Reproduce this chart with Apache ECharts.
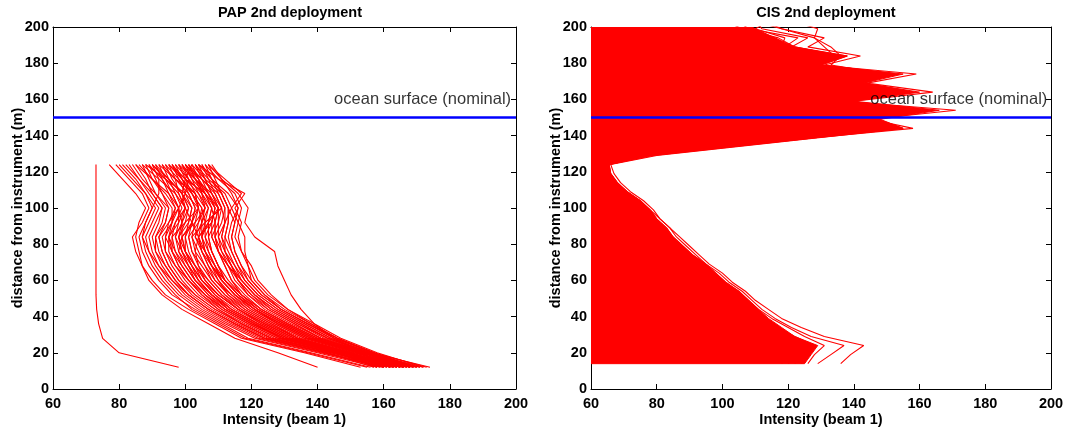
<!DOCTYPE html>
<html lang="en">
<head>
  <meta charset="UTF-8">
  <title>PAP / CIS 2nd deployment</title>
  <script type="text/javascript" src="https://cdn.jsdelivr.net/npm/echarts@6/dist/echarts.min.js"></script>
  <style>
    html, body { margin: 0; padding: 0; background: #fff; }
    #target { width: 1067px; height: 432px; }
  </style>
</head>
<body>
  <div id="target"></div>
  <script type="text/javascript">
    // PAP: depth bins (m above instrument) and intensity profiles
    const papDepth = [124, 116, 108, 100, 92, 84, 76, 68, 60, 52, 44, 36, 28, 20, 12];
    const papProfiles = [
      [73, 73, 73, 73, 73, 73, 73, 73, 73, 73, 73.2, 73.8, 75, 80, 98],
      [77, 81, 85, 88, 86, 85, 86, 87, 89, 93, 99, 107, 115, 128, 140],
      [79, 83, 87, 89, 87, 84, 85, 87, 90, 94, 101, 109, 117, 136, 153],
      [80, 84, 88, 91, 89, 87, 88, 90, 93, 97, 102, 110, 118, 137, 155],
      [81, 85, 88, 90, 88, 86, 87, 89, 92, 96, 103, 111, 119, 138, 156],
      [82, 86, 90, 93, 92, 90, 91, 94, 97, 101, 107, 115, 124, 143, 160],
      [83, 86, 89, 92, 90, 88, 89, 91, 94, 98, 104, 112, 121, 140, 158],
      [84, 87, 91, 95, 94, 91, 91, 93, 96, 100, 106, 114, 123, 142, 159],
      [85, 88, 90, 93, 91, 89, 90, 92, 95, 99, 105, 113, 122, 141, 160],
      [85, 90, 95, 98, 96, 93, 94, 97, 101, 106, 112, 120, 129, 146, 162],
      [86, 90, 94, 97, 95, 92, 93, 95, 98, 103, 109, 117, 126, 144, 161],
      [87, 89, 91, 94, 93, 91, 92, 94, 97, 101, 107, 115, 124, 143, 157],
      [87, 92, 97, 100, 98, 95, 96, 98, 101, 105, 111, 119, 128, 146, 158],
      [88, 90, 93, 96, 96, 94, 94, 96, 99, 103, 109, 117, 126, 145, 163],
      [88, 94, 100, 104, 100, 96, 96, 98, 101, 105, 110, 117, 126, 145, 159],
      [89, 91, 93, 95, 94, 92, 93, 95, 98, 102, 108, 116, 125, 144, 162],
      [89, 93, 96, 98, 98, 97, 99, 101, 104, 108, 113, 121, 130, 147, 166],
      [90, 92, 92, 90, 88, 87, 89, 92, 96, 101, 107, 115, 124, 142, 160],
      [90, 94, 98, 100, 97, 95, 97, 100, 103, 108, 114, 122, 131, 148, 163],
      [90, 95, 99, 101, 100, 98, 100, 103, 107, 111, 117, 125, 134, 150, 165],
      [91, 93, 95, 97, 96, 95, 95, 97, 100, 104, 110, 118, 127, 145, 164],
      [91, 95, 99, 102, 101, 98, 99, 102, 105, 109, 115, 123, 132, 149, 162],
      [92, 94, 96, 98, 99, 99, 100, 102, 104, 108, 114, 122, 131, 148, 168],
      [92, 97, 103, 106, 103, 99, 98, 100, 103, 107, 112, 120, 129, 146, 160],
      [93, 95, 97, 99, 97, 96, 97, 99, 102, 106, 111, 119, 128, 146, 158],
      [93, 97, 101, 103, 102, 100, 100, 102, 105, 110, 116, 124, 133, 150, 164],
      [94, 96, 99, 101, 99, 98, 99, 101, 103, 107, 113, 121, 130, 147, 165],
      [94, 98, 102, 105, 104, 101, 102, 105, 108, 112, 118, 126, 135, 150, 160],
      [95, 97, 98, 100, 99, 97, 98, 101, 104, 108, 113, 121, 129, 147, 163],
      [95, 99, 103, 104, 102, 99, 100, 103, 106, 110, 116, 124, 133, 149, 157],
      [95, 100, 106, 109, 108, 104, 103, 104, 107, 111, 116, 123, 132, 149, 164],
      [96, 98, 100, 102, 101, 100, 101, 103, 105, 109, 114, 122, 131, 148, 161],
      [96, 99, 102, 104, 105, 105, 106, 108, 110, 113, 118, 126, 134, 150, 166],
      [96, 100, 104, 107, 105, 103, 105, 107, 110, 114, 119, 127, 136, 151, 166],
      [97, 99, 101, 103, 102, 101, 102, 104, 106, 110, 116, 124, 133, 149, 167],
      [97, 101, 105, 108, 107, 105, 106, 108, 111, 115, 121, 129, 138, 153, 168],
      [98, 100, 102, 105, 106, 106, 108, 110, 112, 116, 121, 128, 137, 152, 164],
      [98, 101, 100, 98, 95, 94, 96, 99, 102, 106, 112, 120, 130, 147, 162],
      [98, 103, 108, 110, 107, 104, 105, 108, 112, 117, 123, 131, 140, 154, 169],
      [99, 101, 103, 104, 103, 102, 104, 106, 108, 112, 117, 125, 134, 150, 163],
      [99, 102, 106, 110, 109, 107, 108, 110, 113, 117, 123, 131, 140, 154, 170],
      [99, 103, 107, 109, 108, 106, 107, 109, 111, 115, 121, 129, 138, 152, 165],
      [100, 102, 104, 106, 105, 104, 105, 107, 109, 113, 119, 127, 136, 151, 168],
      [100, 103, 106, 108, 109, 109, 110, 112, 114, 117, 122, 130, 139, 153, 162],
      [100, 104, 107, 110, 110, 108, 110, 113, 117, 121, 127, 135, 143, 156, 168],
      [100, 105, 109, 111, 106, 102, 103, 106, 109, 114, 120, 128, 137, 152, 167],
      [101, 103, 105, 107, 106, 105, 107, 109, 111, 115, 120, 128, 137, 152, 166],
      [101, 104, 105, 106, 104, 103, 106, 109, 112, 116, 122, 130, 139, 153, 171],
      [101, 105, 110, 112, 111, 109, 110, 113, 116, 120, 125, 133, 141, 154, 166],
      [102, 100, 99, 100, 102, 104, 106, 108, 111, 115, 121, 129, 138, 153, 169],
      [102, 104, 106, 108, 107, 107, 108, 110, 112, 116, 122, 130, 139, 153, 170],
      [102, 106, 111, 113, 113, 112, 112, 114, 116, 119, 124, 132, 141, 155, 171],
      [103, 105, 107, 109, 108, 108, 110, 112, 114, 118, 123, 131, 140, 154, 165],
      [103, 106, 108, 111, 112, 111, 112, 115, 118, 122, 128, 136, 144, 156, 167],
      [103, 107, 112, 114, 112, 110, 111, 114, 117, 121, 126, 134, 143, 155, 169],
      [104, 106, 108, 110, 109, 109, 111, 113, 115, 119, 125, 133, 141, 155, 172],
      [104, 108, 113, 116, 114, 113, 114, 116, 119, 123, 129, 137, 145, 157, 173],
      [104, 110, 118, 115, 117, 116, 117, 119, 121, 125, 131, 139, 147, 158, 172],
      [105, 107, 109, 111, 110, 110, 112, 114, 116, 120, 126, 134, 142, 155, 168],
      [105, 108, 111, 113, 115, 114, 115, 117, 120, 124, 129, 137, 146, 157, 165],
      [106, 108, 110, 112, 112, 111, 113, 115, 117, 121, 127, 135, 143, 156, 174],
      [106, 110, 115, 117, 116, 115, 117, 120, 122, 126, 131, 138, 146, 157, 169],
      [107, 109, 111, 113, 113, 112, 114, 116, 118, 122, 128, 136, 144, 156, 166],
      [107, 112, 117, 114, 116, 118, 118, 119, 120, 124, 130, 138, 146, 157, 168],
      [107, 111, 116, 119, 118, 121, 127, 128, 130, 132, 135, 139, 145, 154, 165],
      [108, 111, 114, 116, 115, 114, 115, 117, 119, 123, 129, 137, 145, 157, 170]
    ];

    // CIS: depth bins, upper bound of the dense block of profiles, and outlying profiles
    const cisDepth = [14, 19, 24, 29, 34, 39, 44, 49, 54, 59, 64, 69, 74, 79, 84, 89, 94, 99, 104,
      109, 114, 119, 124, 129, 134, 139, 144, 149, 154, 159, 164, 169, 174, 179, 184, 189, 194, 199, 204];
    const cisEnvelope = [125, 127, 129, 122, 118, 114, 111, 108, 105, 101, 98, 95, 91, 88, 85, 83, 80, 78, 75,
      71, 68, 66, 65.5, 78, 103, 128, 155, 148, 166, 140, 160, 143, 155, 130, 138, 122, 116, 110, 105];
    const cisProfiles = [
      [136, 139, 143, 131, 124, 118, 114, 110, 107, 103, 100, 96, 93, 90, 87, 84, 81, 79, 76,
        72, 69, 67, 66, 80, 105, 130, 155, 147, 160, 139, 158, 143, 152, 130, 138, 121, 126, 112, 110],
      [129, 133, 137, 127, 121, 116, 112, 109, 106, 102, 99, 95, 92, 89, 86, 84, 81, 78, 75,
        71, 68, 66, 65.5, 79, 104, 129, 154, 146, 163, 138, 155, 142, 150, 128, 135, 119, 123, 108, 104],
      [126, 128, 131, 125, 120, 115, 111, 108, 105, 101, 98, 95, 91, 88, 85, 83, 80, 78, 75,
        71, 68, 66, 65.5, 78, 103, 129, 158, 145, 171, 137, 150, 141, 148, 127, 133, 118, 119, 110, 115],
      [124, 126, 128, 122, 117, 113, 110, 107, 104, 100, 97, 94, 90, 87, 84, 82, 79, 77, 74,
        70, 67, 65, 64, 76, 100, 125, 150, 142, 155, 140, 164, 144, 159, 129, 136, 122, 117, 106, 100],
      [122, 124, 126, 120, 115, 112, 108, 105, 102, 99, 96, 93, 89, 86, 83, 81, 78, 76, 73,
        70, 66, 64, 63, 74, 97, 122, 148, 140, 152, 136, 149, 140, 152, 131, 142, 126, 131, 118, 112],
      [120, 123, 124, 118, 114, 110, 107, 104, 101, 98, 95, 92, 88, 85, 82, 80, 77, 75, 72,
        69, 66, 64, 63, 73, 96, 120, 146, 138, 150, 135, 146, 137, 150, 133, 136, 133, 128, 129, 120],
      [118, 121, 122, 116, 112, 108, 105, 102, 99, 96, 93, 90, 87, 84, 81, 79, 76, 74, 71,
        68, 65, 63, 62, 72, 95, 118, 144, 136, 148, 132, 145, 135, 147, 128, 134, 131, 128, 118, 108]
    ];

    const surfaceDepth = 150;
    const surfaceX = [60, 200];
    const surfaceLabel = 'ocean surface (nominal)';
    const surfaceLabelAt = [145, 160];

    const FONT = 'Liberation Sans, Arial, Helvetica, sans-serif';
    const tickLabel = { color: '#000', fontWeight: 'bold', fontSize: 14.5, fontFamily: FONT };

    function xAxis(grid, pos) {
      const main = pos === 'bottom';
      return {
        type: 'value', gridIndex: grid, position: pos, min: 60, max: 200, interval: 20,
        axisLine: { onZero: false, lineStyle: { color: '#000', width: 1 } },
        axisTick: { inside: true, length: 5, lineStyle: { color: '#000' } },
        axisLabel: Object.assign({ show: main, margin: 7, showMinLabel: true, showMaxLabel: true }, tickLabel),
        splitLine: { show: false },
        name: main ? 'Intensity (beam 1)' : '', nameLocation: 'middle', nameGap: 23,
        nameMoveOverlap: false,
        nameTextStyle: tickLabel
      };
    }
    function yAxis(grid, pos) {
      const main = pos === 'left';
      return {
        type: 'value', gridIndex: grid, position: pos, min: 0, max: 200, interval: 20,
        axisLine: { onZero: false, lineStyle: { color: '#000', width: 1 } },
        axisTick: { inside: true, length: 5, lineStyle: { color: '#000' } },
        axisLabel: Object.assign({ show: main, margin: 4, showMinLabel: true, showMaxLabel: true }, tickLabel),
        splitLine: { show: false },
        name: main ? 'distance from instrument (m)' : '', nameLocation: 'middle', nameGap: 28,
        nameMoveOverlap: false,
        nameTextStyle: tickLabel
      };
    }

    function profileSeries(depths, values, xi, yi) {
      return {
        type: 'line', xAxisIndex: xi, yAxisIndex: yi, showSymbol: false, silent: true,
        clip: true, z: 2,
        lineStyle: { color: '#ff0000', width: 1.1 },
        data: values.map((v, i) => [v, depths[i]])
      };
    }
    function surfaceSeries(xi, yi) {
      return [{
        type: 'line', xAxisIndex: xi, yAxisIndex: yi, showSymbol: false, silent: true, z: 5,
        lineStyle: { color: '#0000ff', width: 2.5 },
        data: surfaceX.map(x => [x, surfaceDepth])
      }, {
        type: 'scatter', xAxisIndex: xi, yAxisIndex: yi, symbolSize: 0, silent: true, z: 6,
        label: {
          show: true, position: 'right', distance: 0, formatter: surfaceLabel,
          color: '#000', fontSize: 16.5, fontFamily: FONT, verticalAlign: 'middle'
        },
        data: [surfaceLabelAt]
      }];
    }

    // solid block of CIS profiles: polygon from left axis edge out to the envelope
    function renderBlock(params, api) {
      const pts = cisDepth.map((d, i) => api.coord([cisEnvelope[i], d]));
      pts.push(api.coord([60, cisDepth[cisDepth.length - 1]]));
      pts.push(api.coord([60, cisDepth[0]]));
      return {
        type: 'polygon',
        shape: { points: pts },
        style: { fill: '#ff0000', stroke: '#ff0000', lineWidth: 1 }
      };
    }

    const series = [];
    papProfiles.forEach(p => series.push(profileSeries(papDepth, p, 0, 0)));
    series.push(...surfaceSeries(0, 0));
    series.push({
      type: 'custom', xAxisIndex: 2, yAxisIndex: 2, silent: true, clip: true, z: 1,
      renderItem: renderBlock, data: [0]
    });
    cisProfiles.forEach(p => series.push(profileSeries(cisDepth, p, 2, 2)));
    series.push(...surfaceSeries(2, 2));

    const titleStyle = { color: '#000', fontWeight: 'bold', fontSize: 14.5, fontFamily: FONT };
    const option = {
      animation: false,
      backgroundColor: '#fff',
      title: [
        { text: 'PAP 2nd deployment', left: 285, top: 0, textAlign: 'center', textStyle: titleStyle },
        { text: 'CIS 2nd deployment', left: 821, top: 0, textAlign: 'center', textStyle: titleStyle }
      ],
      grid: [
        { left: 53, top: 27, width: 463, height: 362, containLabel: false, outerBoundsMode: 'none' },
        { left: 591, top: 27, width: 460, height: 362, containLabel: false, outerBoundsMode: 'none' }
      ],
      xAxis: [xAxis(0, 'bottom'), xAxis(0, 'top'), xAxis(1, 'bottom'), xAxis(1, 'top')],
      yAxis: [yAxis(0, 'left'), yAxis(0, 'right'), yAxis(1, 'left'), yAxis(1, 'right')],
      series
    };
    echarts.init(document.getElementById('target')).setOption(option, true);
  </script>
</body>
</html>
